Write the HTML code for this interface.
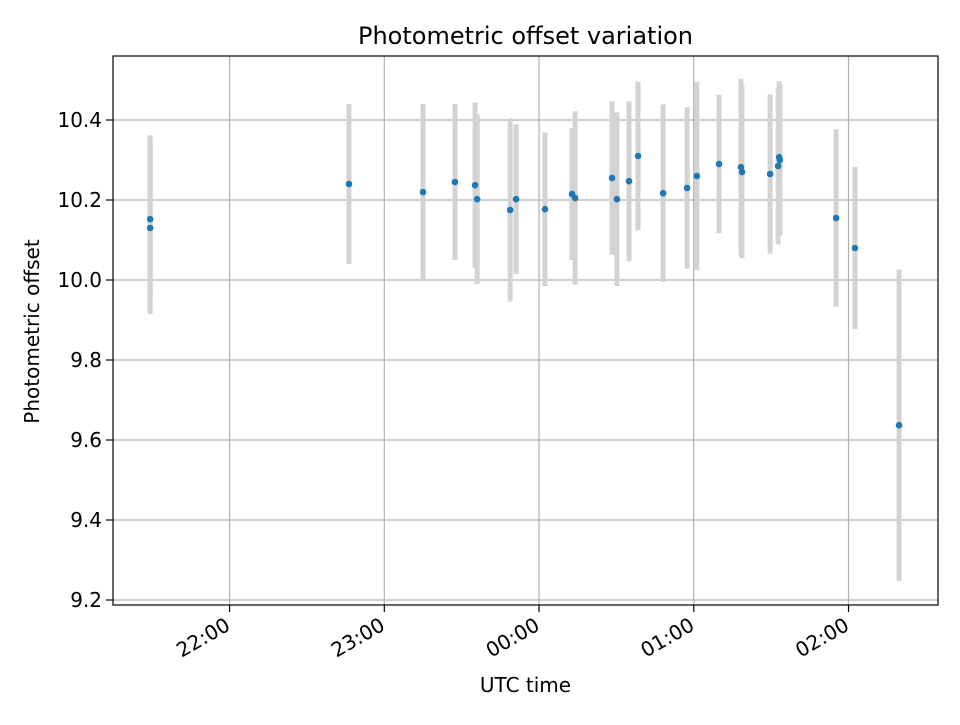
<!DOCTYPE html>
<html><head><meta charset="utf-8"><style>
body{margin:0;background:#fff}
svg text{font-family:"DejaVu Sans","Liberation Sans",sans-serif;fill:#000}
</style></head><body>
<svg id="chart" width="960" height="720" xmlns="http://www.w3.org/2000/svg">
<rect width="960" height="720" fill="#fff"/>
<g id="grid"></g><g id="bars"></g><g id="pts"></g><g id="axes"></g>
</svg>
<script>
// times in minutes relative to 00:00 UTC
const times=[-150.8,-150.8,-73.7,-45.0,-32.6,-24.8,-24.0,-11.2,-8.9,2.3,12.8,14.0,28.3,30.2,34.9,38.4,48.1,57.4,61.2,69.8,78.3,78.7,89.6,92.7,93.1,93.4,115.2,122.5,139.6];
const offsets=[10.152,10.13,10.24,10.22,10.245,10.237,10.202,10.175,10.202,10.177,10.215,10.205,10.255,10.202,10.247,10.31,10.217,10.23,10.26,10.29,10.282,10.27,10.265,10.285,10.307,10.3,10.155,10.08,9.637];
const errors=[0.21,0.215,0.20,0.22,0.195,0.207,0.212,0.229,0.187,0.192,0.165,0.217,0.192,0.217,0.2,0.186,0.222,0.202,0.235,0.173,0.221,0.215,0.199,0.196,0.19,0.19,0.222,0.203,0.389];
const yTicks=[9.2,9.4,9.6,9.8,10.0,10.2,10.4];
const xTicks=[-120,-60,0,60,120];
const xTickLabels=["22:00","23:00","00:00","01:00","02:00"];
const L=113,R=938,T=56,B=605;
const xMin=-165.2,xMax=154.7,yMin=9.1875,yMax=10.56;
const X=m=>L+(m-xMin)/(xMax-xMin)*(R-L);
const Y=v=>B-(v-yMin)/(yMax-yMin)*(B-T);
const NS="http://www.w3.org/2000/svg";
function mk(tag,attrs,parent,txt){const e=document.createElementNS(NS,tag);for(const k in attrs)e.setAttribute(k,attrs[k]);if(txt!==undefined)e.textContent=txt;document.getElementById(parent).appendChild(e);return e;}
xTicks.forEach((t,i)=>{
 const g=mk('line',{x1:X(t),x2:X(t),y1:T,y2:B,stroke:'#b0b0b0','stroke-width':1.2},'grid');
 
 
 const tk=mk('line',{x1:X(t),x2:X(t),y1:B,y2:B+7,stroke:'#000','stroke-width':1.2},'axes');
 
 
 const ax=X(t)+2, ay=B+24;
 const lb=mk('text',{x:ax,y:ay,'font-size':20,'text-anchor':'end',transform:`rotate(-30 ${ax} ${ay})`},'axes',xTickLabels[i]);
 
 
});
yTicks.forEach(v=>{
 const g=mk('line',{x1:L,x2:R,y1:Y(v),y2:Y(v),stroke:'#b0b0b0','stroke-width':1.2},'grid');
 
 
 const tk=mk('line',{x1:L-7,x2:L,y1:Y(v),y2:Y(v),stroke:'#000','stroke-width':1.2},'axes');
 
 
 const lb=mk('text',{x:L-11,y:Y(v)+7,'font-size':20,'text-anchor':'end'},'axes',v.toFixed(1));
 
 
});
times.forEach((t,i)=>{
 const b=mk('line',{x1:X(t),x2:X(t),y1:Y(offsets[i]+errors[i]),y2:Y(offsets[i]-errors[i]),stroke:'#d3d3d3','stroke-width':5},'bars');
 
 
});
times.forEach((t,i)=>{
 const p=mk('circle',{cx:X(t),cy:Y(offsets[i]),r:3.3,fill:'#1f77b4'},'pts');
 
 
});
const fr=mk('rect',{x:L,y:T,width:R-L,height:B-T,fill:'none',stroke:'#000','stroke-width':1.2},'axes');


const ti=mk('text',{x:(L+R)/2,y:44,'font-size':24,'text-anchor':'middle'},'axes','Photometric offset variation');


const xl=mk('text',{x:(L+R)/2,y:692,'font-size':20,'text-anchor':'middle'},'axes','UTC time');


const yl=mk('text',{x:39,y:(T+B)/2+1,'font-size':20,'text-anchor':'middle',transform:`rotate(-90 39 ${(T+B)/2+1})`},'axes','Photometric offset');


</script>
</body></html>
